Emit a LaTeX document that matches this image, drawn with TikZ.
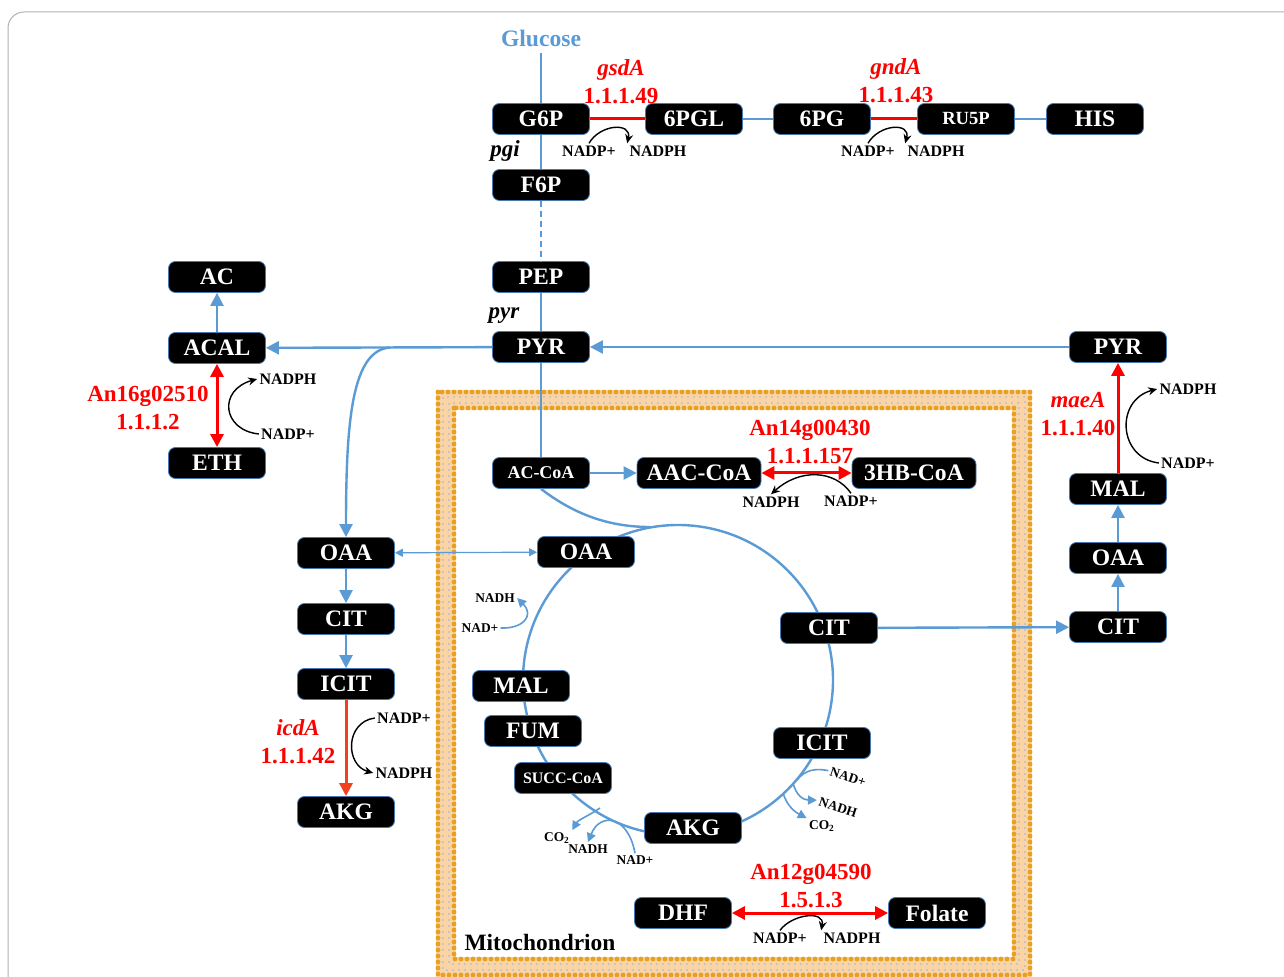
\documentclass[tikz,border=0pt]{standalone}
\usepackage{fontspec}
\setmainfont{Liberation Serif}
\usetikzlibrary{arrows.meta,calc,positioning}
\definecolor{pathblue}{RGB}{91,155,213}
\definecolor{enzred}{RGB}{255,0,0}
\definecolor{icdred}{RGB}{240,64,30}
\definecolor{lipid}{RGB}{250,212,165}
\definecolor{lipidhead}{RGB}{232,160,32}
\definecolor{boxedge}{RGB}{70,120,180}

\begin{document}
\begin{tikzpicture}[x=0.5pt,y=-0.5pt,% one unit = one pixel of the figure, y downwards
        met/.style={draw=boxedge,line width=0.4pt,fill=black,text=white,rounded corners=3.5pt,
          minimum width=48.5pt,minimum height=15.5pt,inner sep=0pt,font=\bfseries\fontsize{11.8}{13}\selectfont},
        metsm/.style={met,font=\bfseries\fontsize{9}{10}\selectfont},
        enz/.style={text=enzred,align=center,font=\bfseries\fontsize{11.5}{14}\selectfont},
        cof/.style={inner sep=1pt,font=\bfseries\fontsize{8}{9}\selectfont},
        tcacof/.style={inner sep=1pt,font=\bfseries\fontsize{6.7}{7.5}\selectfont},
        gene/.style={font=\bfseries\itshape\fontsize{11.5}{12}\selectfont},
        flux/.style={pathblue,line width=1.2pt},
        fluxarr/.style={flux,-{Triangle[length=6.5pt,width=6.5pt]}},
        redline/.style={enzred,line width=1.5pt},
        redone/.style={redline,-{Triangle[length=6.5pt,width=6.5pt]}},
        redarr/.style={redline,{Triangle[length=6.5pt,width=6.5pt]}-{Triangle[length=6.5pt,width=6.5pt]}},
        cofarr/.style={black,line width=0.7pt,-{Stealth[length=4.5pt,width=4pt]}},
        tcaline/.style={pathblue,line width=0.8pt},
        tcaarr/.style={tcaline,-{Triangle[length=4.5pt,width=4.5pt]}}]

\useasboundingbox (0,0) rectangle (1284,977);
\fill[white] (0,0) rectangle (1284,977);
\draw[gray!60,line width=0.5pt,rounded corners=8pt] (8,12) rectangle (1330,1030);

% mitochondrial membrane
\draw[lipid,line width=10pt] (446,400) rectangle (1022,967);
\draw[gray!45,line width=1pt,dash pattern=on 1.2pt off 1.8pt] (443,397) rectangle (1025,970)
  (449,403) rectangle (1019,964);
\draw[lipidhead,line width=2.4pt,line cap=round,dash pattern=on 0pt off 3pt] (438,392) rectangle (1030,975)
  (454,408) rectangle (1014,959);
\node[font=\bfseries\fontsize{11.7}{13}\selectfont] (mito) at (540,942) {Mitochondrion};

% TCA cycle ring, behind the boxes
\coordinate (tca) at (678,680);
\draw[flux] (tca) circle[radius=155];

\foreach \nm/\px/\py/\txt in {g6p/541/119/G6P,6pgl/694/119/6PGL,6pg/822/119/6PG,his/1095/119/HIS,
  f6p/541/185/F6P,pep/541/277/PEP,pyr/541/347/PYR,ac/217/277/AC,acal/217/348/ACAL,eth/217/463/ETH,
  oaa/346/553/OAA,cit/346/619/CIT,icit/346/684/ICIT,akg/346/812/AKG,
  pyrr/1118/347/PYR,malr/1118/489/MAL,oaar/1118/558/OAA,citr/1118/627/CIT,
  moaa/586/552/OAA,mcit/829/628/CIT,micit/822/743/ICIT,makg/693/828/AKG,mfum/533/731/FUM,mmal/521/686/MAL,
  dhf/683/913/DHF,fol/937/913/Folate}{ %\nm is the name, \txt the printed text
\node[met] (\nm) at (\px,\py) {\txt};
}
\node[metsm,font=\bfseries\fontsize{9.3}{10}\selectfont] (ru5p) at (966,119) {RU5P};
\node[metsm] (accoa) at (541,473) {AC-CoA};
\node[metsm,font=\bfseries\fontsize{8}{9}\selectfont] (msucc) at (563,778) {SUCC-CoA};
\node[met,minimum width=62pt] (aaccoa) at (699,473) {AAC-CoA};
\node[met,minimum width=62pt] (hbcoa) at (914,473) {3HB-CoA};

\node[text=pathblue,font=\bfseries\fontsize{11.8}{13}\selectfont] (glc) at (541,38) {Glucose};
\node[gene] (pgi) at (505,151) {pgi};
\node[gene] (pyrk) at (504,316) {pyr};

% enzymes
\node[enz] (gsda) at (621,82) {\textit{gsdA}\\1.1.1.49};
\node[enz] (gnda) at (896,81) {\textit{gndA}\\1.1.1.43};
\node[enz] (adh) at (148,408) {An16g02510\\1.1.1.2};
\node[enz] (hbd) at (810,442) {An14g00430\\1.1.1.157};
\node[enz] (icda) at (298,742) {\textit{icdA}\\1.1.1.42};
\node[enz] (maea) at (1078,414) {\textit{maeA}\\1.1.1.40};
\node[enz] (dhfr) at (811,886) {An12g04590\\1.5.1.3};

% cofactors
\foreach \nm/\px/\py/\txt in {np1/589/151/NADP+,nh1/658/151/NADPH,np2/868/151/NADP+,nh2/936/151/NADPH,
  nh3/288/379/NADPH,np3/288/434/NADP+,nh5/771/502/NADPH,np5/851/501/NADP+,
  nh4/1188/389/NADPH,np4/1188/463/NADP+,np6/404/718/NADP+,nh6/404/773/NADPH,
  np7/780/938/NADP+,nh7/852/938/NADPH}{
\node[cof] (\nm) at (\px,\py) {\txt};
}
\node[tcacof] (tnadh1) at (495,598) {NADH};
\node[tcacof] (tnad1) at (480,628) {NAD+};
\node[tcacof,rotate=-18] (tnad2) at (848,777) {NAD+};
\node[tcacof,rotate=-18] (tnadh2) at (838,807) {NADH};
\node[tcacof] (tco2a) at (822,826) {CO\textsubscript{2}};
\node[tcacof] (tco2b) at (557,838) {CO\textsubscript{2}};
\node[tcacof] (tnadh3) at (588,849) {NADH};
\node[tcacof] (tnad3) at (635,860) {NAD+};

% glycolysis and pentose phosphate
\draw[flux] (glc) -- (g6p);
\draw[redline] (g6p) -- (6pgl);
\draw[flux] (6pgl) -- (6pg);
\draw[redline] (6pg) -- (ru5p);
\draw[flux] (ru5p) -- (his);
\draw[flux] (g6p) -- (f6p);
\draw[flux,dash pattern=on 3pt off 2pt] (f6p) -- (pep);
\draw[flux] (pep) -- (pyr);
\draw[fluxarr] (pyr) -- (acal);
\draw[fluxarr] (pyrr) -- (pyr);
\draw[fluxarr] (acal) -- (ac);
\draw[redarr] (acal) -- (eth);
\draw[fluxarr] ($(pyr.west)!0.45!(acal.east)$) .. controls (352,350) and (346,420) .. (oaa);

% cytosolic branch
\draw[flux,line width=0.6pt,{Triangle[length=4pt,width=4pt]}-{Triangle[length=4pt,width=4pt]}] (oaa) -- (moaa);
\draw[fluxarr] (oaa) -- (cit);
\draw[fluxarr] (cit) -- (icit);
\draw[redone,icdred] (icit) -- (akg);
\draw[fluxarr] (mcit) -- (citr);
\draw[fluxarr] (citr) -- (oaar);
\draw[fluxarr] (oaar) -- (malr);
\draw[redone] (malr) -- (pyrr);

% mitochondrial reactions
\draw[flux] (pyr) -- (accoa);
\draw[flux] (accoa.south) .. controls (575,515) and (610,527) .. (650,527);
\draw[fluxarr] (accoa) -- (aaccoa);
\draw[redarr] (aaccoa) -- (hbcoa);
\draw[redarr] (dhf) -- (fol);

% cofactor arcs
\draw[cofarr] (np1.north) .. controls (600,124) and (632,122) .. (nh1.north west);
\draw[cofarr] (np2.north) .. controls (879,124) and (911,122) .. (nh2.north west);
\draw[cofarr] (np3.west) .. controls (222,430) and (218,390) .. (nh3.west);
\draw[cofarr] (np4.west) .. controls (1118,458) and (1115,400) .. (nh4.west);
\draw[cofarr] (np6.west) .. controls (345,722) and (345,765) .. (nh6.west);
\draw[cofarr] (np5.north) .. controls (835,470) and (800,468) .. (nh5.north);
\draw[cofarr] (np7.north) .. controls (792,914) and (825,910) .. (nh7.north west);

\draw[tcaarr] (tnad1.east) .. controls (522,629) and (535,616) .. (tnadh1.east);
\draw[tcaline] (797,780) .. controls (805,770) and (815,768) .. (tnad2.west);
\draw[tcaarr] (793,783) .. controls (796,795) and (803,800) .. (tnadh2.west);
\draw[tcaarr] (783,793) .. controls (787,806) and (795,812) .. (tco2a.north west);
\draw[tcaarr] (600,808) .. controls (590,815) and (578,820) .. (tco2b.north east);
\draw[tcaarr] (tnad3.north) .. controls (628,815) and (600,812) .. (tnadh3.north);

\end{tikzpicture}
\end{document}
